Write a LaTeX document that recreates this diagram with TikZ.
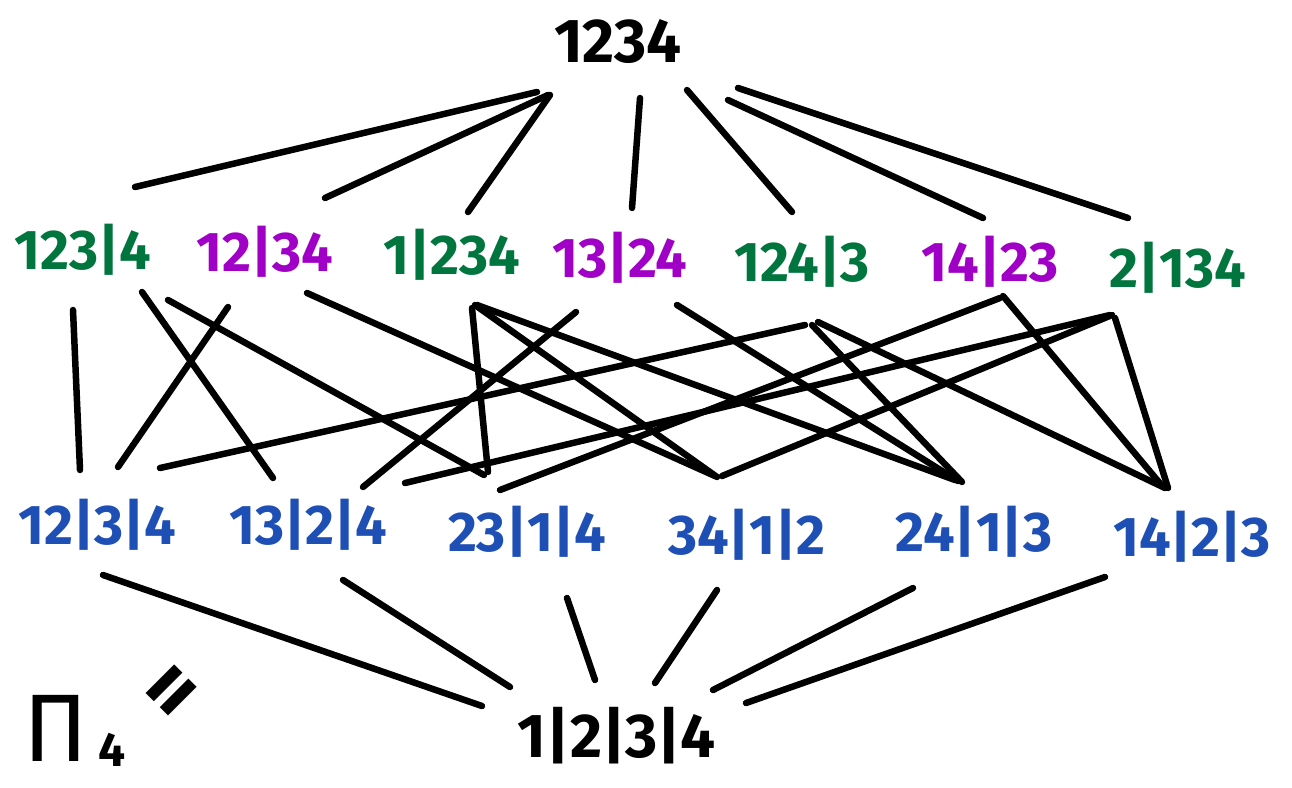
\documentclass[tikz,border=0pt]{standalone}
\usepackage{fontspec}
\setmainfont{Fira Sans}
\usetikzlibrary{calc}
\definecolor{lgreen}{RGB}{0,118,62}
\definecolor{lpurple}{RGB}{160,0,198}
\definecolor{lblue}{RGB}{29,79,180}
\tikzset{
  lbl/.style={inner sep=0pt, font=\fontsize{56}{56}\selectfont\bfseries},
  gr/.style={lbl, text=lgreen},
  pu/.style={lbl, text=lpurple},
  bl/.style={lbl, text=lblue},
  bk/.style={lbl, text=black, font=\fontsize{62}{62}\selectfont\bfseries},
  edge/.style={draw=black, line width=6.5pt, line cap=round, line join=round},
}
\begin{document}
\begin{tikzpicture}[x=1pt, y=-1pt]
\useasboundingbox (0,0) rectangle (1292,787);
\fill[white] (0,0) rectangle (1292,787);

% ranks of the partition lattice
\node[bk] (top) at (618,42) {1234};

\node[gr] (m1) at (83,250)   {123|4};
\node[pu] (m2) at (265,252)  {12|34};
\node[gr] (m3) at (452,255)  {1|234};
\node[pu] (m4) at (620,258)  {13|24};
\node[gr] (m5) at (802,262)  {124|3};
\node[pu] (m6) at (990,262)  {14|23};
\node[gr] (m7) at (1178,268) {2|134};

\node[bl] (l1) at (97,525)   {12|3|4};
\node[bl] (l2) at (308,525)  {13|2|4};
\node[bl] (l3) at (527,532)  {23|1|4};
\node[bl] (l4) at (747,535)  {34|1|2};
\node[bl] (l5) at (974,532)  {24|1|3};
\node[bl] (l6) at (1192,537) {14|2|3};

\node[bk] (bot) at (617,736) {1|2|3|4};

% name of the lattice
\node[inner sep=0pt, font=\fontsize{96}{96}\selectfont] (pi) at (56,728) {Π};
\node[inner sep=0pt, font=\fontsize{48}{48}\selectfont\bfseries] (pisub) at (112,750) {4};
\node[inner sep=0pt, rotate=45, font=\fontsize{96}{96}\selectfont\bfseries] (eq) at (177,696) {=};

% 1234 to the two-block partitions
\draw[edge] ($(top)+(-81,50)$) -- ($(m1)+(52,-63)$);
\draw[edge] ($(top)+(-70,53)$) -- ($(m2)+(60,-54)$);
\draw[edge] ($(top)+(-68,53)$) -- ($(m3)+(16,-43)$);
\draw[edge] ($(top)+(22,56)$)  -- ($(m4)+(12,-50)$);
\draw[edge] ($(top)+(69,48)$)  -- ($(m5)+(-10,-50)$);
\draw[edge] ($(top)+(110,58)$) -- ($(m6)+(-7,-44)$);
\draw[edge] ($(top)+(120,46)$) -- ($(m7)+(-50,-50)$);

% two-block to three-block partitions
\draw[edge] ($(m1)+(-10,60)$) -- ($(l1)+(-17,-55)$);
\draw[edge] ($(m1)+(59,42)$)  -- ($(l2)+(-35,-47)$);
\draw[edge] ($(m1)+(85,50)$)  -- ($(l3)+(-43,-57)$);
\draw[edge] ($(m2)+(-37,55)$) -- ($(l1)+(21,-58)$);
\draw[edge] ($(m2)+(42,41)$)  -- ($(l4)+(-32,-59)$);
\draw[edge] ($(m3)+(20,53)$)  -- ($(l3)+(-39,-60)$);
\draw[edge] ($(m3)+(23,50)$)  -- ($(l4)+(-30,-58)$);
\draw[edge] ($(m3)+(25,50)$)  -- ($(l5)+(-19,-52)$);
\draw[edge] ($(m4)+(-44,54)$) -- ($(l2)+(55,-38)$);
\draw[edge] ($(m4)+(57,47)$)  -- ($(l5)+(-16,-51)$);
\draw[edge] ($(m5)+(3,63)$)   -- ($(l1)+(63,-57)$);
\draw[edge] ($(m5)+(16,60)$)  -- ($(l6)+(-27,-49)$);
\draw[edge] ($(m5)+(10,63)$)  -- ($(l5)+(-12,-50)$);
\draw[edge] ($(m6)+(10,36)$)  -- ($(l3)+(-27,-42)$);
\draw[edge] ($(m6)+(13,34)$)  -- ($(l6)+(-29,-50)$);
\draw[edge] ($(m7)+(-68,47)$) -- ($(l2)+(97,-42)$);
\draw[edge] ($(m7)+(-66,47)$) -- ($(l4)+(-25,-59)$);
\draw[edge] ($(m7)+(-63,50)$) -- ($(l6)+(-24,-49)$);

% three-block partitions to 1|2|3|4
\draw[edge] ($(l1)+(6,50)$)   -- ($(bot)+(-135,-30)$);
\draw[edge] ($(l2)+(35,55)$)  -- ($(bot)+(-107,-49)$);
\draw[edge] ($(l3)+(40,66)$)  -- ($(bot)+(-22,-56)$);
\draw[edge] ($(l4)+(-30,55)$) -- ($(bot)+(38,-53)$);
\draw[edge] ($(l5)+(-61,56)$) -- ($(bot)+(96,-46)$);
\draw[edge] ($(l6)+(-87,40)$) -- ($(bot)+(129,-33)$);
\end{tikzpicture}
\end{document}
